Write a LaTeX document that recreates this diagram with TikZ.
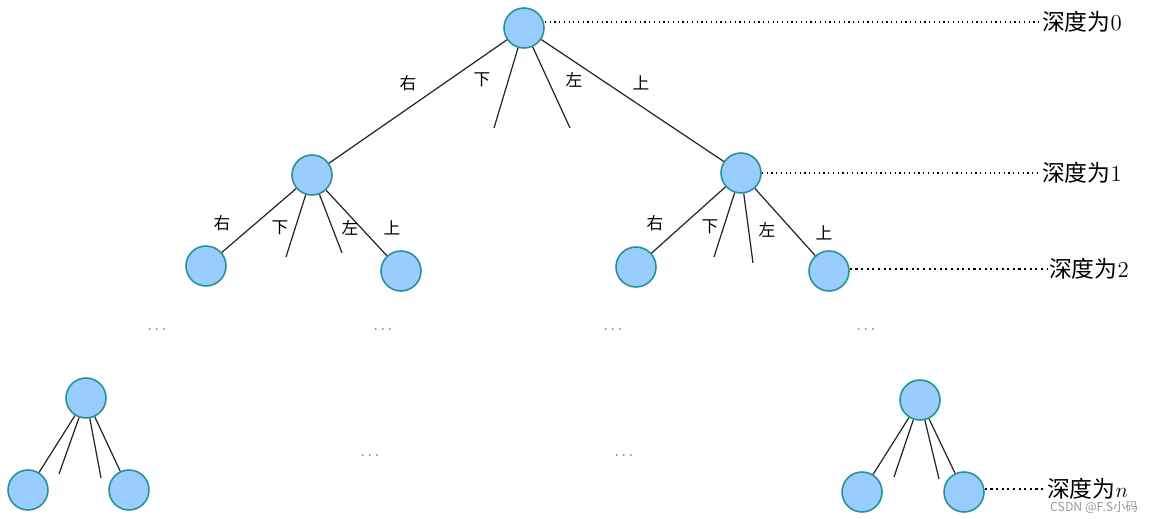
\documentclass[tikz,border=0pt]{standalone}
\usepackage{fontspec}
\newfontfamily\cjk{Noto Sans CJK SC}
\usetikzlibrary{positioning}

\definecolor{nodefill}{RGB}{153,204,255}
\definecolor{nodeline}{RGB}{40,145,150}

\tikzset{
    state/.style={circle, draw=nodeline, fill=nodefill, line width=0.9pt, minimum size=0.8cm, inner sep=0pt},
    edge/.style={line width=0.7pt, black!85},
    dir/.style={font=\cjk\fontsize{9.5}{9.5}\selectfont},
    depth/.style={font=\fontsize{13}{13}\selectfont, anchor=west, inner sep=1pt},
    level/.style={dotted, line width=0.7pt},
    more/.style={font=\small, text=black!60}
}

\begin{document}
\begin{tikzpicture}[x=0.02cm, y=-0.02cm]

    \useasboundingbox (0,0) rectangle (1168,519);

    % Nodes
    \node[state] (root) at (524,28) {};
    \node[state] (l) at (312,175) {};
    \node[state] (r) at (741,173) {};
    \node[state] (ll) at (206,266) {};
    \node[state] (lr) at (401,271) {};
    \node[state] (rl) at (636,267) {};
    \node[state] (rr) at (829,271) {};
    \node[state] (bl) at (86,398) {};
    \node[state] (bll) at (28,490) {};
    \node[state] (blr) at (129,490) {};
    \node[state] (br) at (920,400) {};
    \node[state] (brl) at (862,492) {};
    \node[state] (brr) at (964,492) {};

    % open ends of the cut branches
    \coordinate (root_d) at (494,128);
    \coordinate (root_a) at (570,128);
    \coordinate (l_d) at (286,257);
    \coordinate (l_a) at (342,253);
    \coordinate (r_d) at (714,257);
    \coordinate (r_a) at (753,263);
    \coordinate (bl_d) at (59,474);
    \coordinate (bl_a) at (101,478);
    \coordinate (br_d) at (894,477);
    \coordinate (br_a) at (939,479);

    % Branches
    \draw[edge] (root) -- (l);
    \draw[edge] (root) -- (root_d);
    \draw[edge] (root) -- (root_a);
    \draw[edge] (root) -- (r);
    \draw[edge] (l) -- (ll);
    \draw[edge] (l) -- (l_d);
    \draw[edge] (l) -- (l_a);
    \draw[edge] (l) -- (lr);
    \draw[edge] (r) -- (rl);
    \draw[edge] (r) -- (r_d);
    \draw[edge] (r) -- (r_a);
    \draw[edge] (r) -- (rr);
    \draw[edge] (bl) -- (bll);
    \draw[edge] (bl) -- (bl_d);
    \draw[edge] (bl) -- (bl_a);
    \draw[edge] (bl) -- (blr);
    \draw[edge] (br) -- (brl);
    \draw[edge] (br) -- (br_d);
    \draw[edge] (br) -- (br_a);
    \draw[edge] (br) -- (brr);

    % Move labels
    \node[dir] (root_rt) at (408,83) {右};
    \node[dir] (root_dn) at (482,80) {下};
    \node[dir] (root_lt) at (574,80) {左};
    \node[dir] (root_up) at (641,83) {上};
    \node[dir] (l_rt) at (222,223) {右};
    \node[dir] (l_dn) at (280,228) {下};
    \node[dir] (l_lt) at (350,228) {左};
    \node[dir] (l_up) at (392,228) {上};
    \node[dir] (r_rt) at (655,223) {右};
    \node[dir] (r_dn) at (710,227) {下};
    \node[dir] (r_lt) at (767,230) {左};
    \node[dir] (r_up) at (824,233) {上};

    % Omitted levels
    \node[more] (dots1) at (157,330) {$\cdots$};
    \node[more] (dots2) at (383,330) {$\cdots$};
    \node[more] (dots3) at (613,330) {$\cdots$};
    \node[more] (dots4) at (866,330) {$\cdots$};
    \node[more] (dots5) at (370,456) {$\cdots$};
    \node[more] (dots6) at (624,456) {$\cdots$};

    % Depth marks
    \node[depth] (d0) at (1040,22) {{\cjk 深度为}0};
    \node[depth] (d1) at (1040,173) {{\cjk 深度为}1};
    \node[depth] (d2) at (1047,269) {{\cjk 深度为}2};
    \node[depth] (dn) at (1045,489) {{\cjk 深度为}$n$};
    \draw[level] (root.east |- d0.west) -- (d0.west);
    \draw[level] (r.east) -- (d1.west);
    \draw[level, line width=1.2pt] (rr.east |- d2.west) -- (d2.west);
    \draw[level, line width=1.2pt] (brr.east |- dn.west) -- (dn.west);

    \node[font=\cjk\fontsize{7}{7}\selectfont, text=black!40] (mark) at (1094,507) {CSDN @F.S小码};

\end{tikzpicture}
\end{document}
